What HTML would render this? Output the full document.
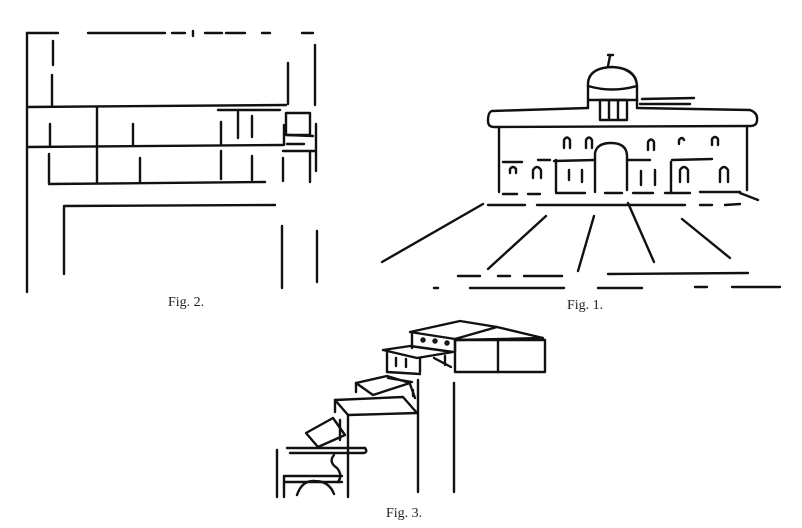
<!DOCTYPE html>
<html><head><meta charset="utf-8"><style>
html,body{margin:0;padding:0;background:#fff;}
svg{display:block;}
text{font-family:"Liberation Serif",serif;font-size:14px;fill:#222;}
</style></head><body>
<svg width="802" height="528" viewBox="0 0 802 528" xmlns="http://www.w3.org/2000/svg">
<g stroke="#111" stroke-width="2.4" fill="none" stroke-linecap="round" stroke-linejoin="round">
<!-- Fig 2 -->
<line x1="27" y1="33" x2="27" y2="292"/>
<line x1="27" y1="33" x2="58" y2="33"/>
<line x1="88" y1="33" x2="165" y2="33"/>
<line x1="172" y1="33" x2="185" y2="33"/>
<line x1="193" y1="31" x2="193" y2="36"/>
<line x1="205" y1="33" x2="222" y2="33"/>
<line x1="226" y1="33" x2="245" y2="33"/>
<line x1="262" y1="33" x2="270" y2="33"/>
<line x1="302" y1="33" x2="313" y2="33"/>
<line x1="53" y1="41" x2="53" y2="65"/>
<line x1="52" y1="75" x2="52" y2="105"/>
<line x1="288" y1="63" x2="288" y2="104"/>
<line x1="315" y1="45" x2="315" y2="105"/>
<line x1="27" y1="107" x2="286" y2="105"/>
<line x1="218" y1="110" x2="280" y2="110"/>
<line x1="97" y1="108" x2="97" y2="183"/>
<line x1="50" y1="124" x2="50" y2="145"/>
<line x1="133" y1="124" x2="133" y2="145"/>
<line x1="221" y1="122" x2="221" y2="145"/>
<line x1="238" y1="112" x2="238" y2="138"/>
<line x1="252" y1="116" x2="252" y2="137"/>
<line x1="27" y1="147" x2="283" y2="145"/>
<rect x="286" y="113" width="24" height="22"/>
<line x1="287" y1="135" x2="313" y2="136"/>
<line x1="287" y1="144" x2="304" y2="144"/>
<line x1="284" y1="125" x2="284" y2="145"/>
<line x1="316" y1="124" x2="316" y2="171"/>
<line x1="283" y1="151" x2="315" y2="151"/>
<line x1="49" y1="154" x2="49" y2="184"/>
<line x1="49" y1="184" x2="265" y2="182"/>
<line x1="140" y1="158" x2="140" y2="183"/>
<line x1="221" y1="151" x2="221" y2="179"/>
<line x1="252" y1="156" x2="252" y2="180"/>
<line x1="283" y1="158" x2="283" y2="181"/>
<line x1="310" y1="152" x2="310" y2="182"/>
<line x1="64" y1="206" x2="275" y2="205"/>
<line x1="64" y1="207" x2="64" y2="274"/>
<line x1="282" y1="226" x2="282" y2="288"/>
<line x1="317" y1="231" x2="317" y2="282"/>
<!-- Fig 1 -->
<path d="M492 111 L588 108 M637 108 L750 110 Q758 113 757 120 Q757 126 750 126 L494 127 Q488 127 488 121 Q488 112 492 111"/>
<line x1="499" y1="127" x2="499" y2="192"/>
<line x1="747" y1="127" x2="747" y2="190"/>
<path d="M588 108 L588 86 Q587 68 612 67 Q636 68 637 86 L637 108"/>
<path d="M588 86 Q612 93 637 86"/>
<path d="M626 70 Q634 74 636 80"/>
<line x1="608" y1="55" x2="613" y2="55"/>
<line x1="610" y1="56" x2="608" y2="66"/>
<rect x="600" y="100" width="27" height="20"/>
<line x1="609" y1="101" x2="609" y2="119"/>
<line x1="618" y1="101" x2="618" y2="119"/>
<line x1="588" y1="100" x2="637" y2="100"/>
<line x1="642" y1="99" x2="694" y2="98"/>
<line x1="640" y1="104" x2="690" y2="104"/>
<path d="M595 192 L595 153 Q597 143 611 143 Q626 143 627 155 L627 190"/>
<line x1="554" y1="161" x2="595" y2="160"/>
<line x1="627" y1="160" x2="650" y2="160"/>
<line x1="672" y1="160" x2="712" y2="159"/>
<line x1="503" y1="162" x2="522" y2="162"/>
<line x1="538" y1="160" x2="550" y2="160"/>
<line x1="556" y1="160" x2="556" y2="192"/>
<line x1="671" y1="162" x2="671" y2="192"/>
<path d="M564 148 V140 Q567 135 570 140 V148"/>
<path d="M586 148 V140 Q589 135 592 140 V148"/>
<path d="M648 150 V142 Q651 137 654 142 V150"/>
<path d="M679 144 V140 Q682 136 684 140"/>
<path d="M712 145 V139 Q715 135 718 139 V145"/>
<path d="M510 173 V169 Q513 165 516 169 V173"/>
<path d="M533 178 V170 Q537 164 541 170 V178"/>
<path d="M680 182 V170 Q684 164 688 170 V182"/>
<path d="M720 182 V170 Q724 164 728 170 V182"/>
<line x1="569" y1="170" x2="569" y2="180"/>
<line x1="582" y1="170" x2="582" y2="182"/>
<line x1="641" y1="171" x2="641" y2="185"/>
<line x1="655" y1="170" x2="655" y2="185"/>
<line x1="503" y1="194" x2="517" y2="194"/>
<line x1="528" y1="194" x2="540" y2="194"/>
<line x1="556" y1="193" x2="585" y2="193"/>
<line x1="605" y1="193" x2="622" y2="193"/>
<line x1="633" y1="193" x2="653" y2="193"/>
<line x1="665" y1="193" x2="690" y2="193"/>
<line x1="700" y1="192" x2="740" y2="192"/>
<line x1="740" y1="193" x2="758" y2="200"/>
<line x1="488" y1="205" x2="525" y2="205"/>
<line x1="537" y1="205" x2="685" y2="205"/>
<line x1="700" y1="205" x2="712" y2="205"/>
<line x1="725" y1="205" x2="740" y2="204"/>
<line x1="483" y1="204" x2="382" y2="262"/>
<line x1="546" y1="216" x2="488" y2="269"/>
<line x1="594" y1="216" x2="578" y2="271"/>
<line x1="628" y1="203" x2="654" y2="262"/>
<line x1="682" y1="219" x2="730" y2="258"/>
<line x1="458" y1="276" x2="480" y2="276"/>
<line x1="498" y1="276" x2="510" y2="276"/>
<line x1="524" y1="276" x2="562" y2="276"/>
<line x1="608" y1="274" x2="748" y2="273"/>
<line x1="434" y1="288" x2="438" y2="288"/>
<line x1="470" y1="288" x2="564" y2="288"/>
<line x1="598" y1="288" x2="642" y2="288"/>
<line x1="695" y1="287" x2="707" y2="287"/>
<line x1="732" y1="287" x2="780" y2="287"/>
<!-- Fig 3 -->
<polygon points="410,332 460,321 497,327 455,339"/>
<polyline points="497,327 543,338 455,340"/>
<rect x="455" y="340" width="90" height="32"/>
<line x1="498" y1="340" x2="498" y2="372"/>
<line x1="412" y1="333" x2="412" y2="348"/>
<line x1="455" y1="339" x2="455" y2="352"/>
<circle cx="423" cy="340" r="1.5"/><circle cx="435" cy="341" r="1.5"/><circle cx="447" cy="343" r="1.5"/>
<polygon points="383,350 410,346 453,352 417,358"/>
<line x1="387" y1="353" x2="387" y2="372"/>
<line x1="420" y1="358" x2="420" y2="372"/>
<line x1="387" y1="372" x2="420" y2="374"/>
<line x1="434" y1="358" x2="451" y2="367"/>
<line x1="445" y1="356" x2="445" y2="365"/>
<line x1="396" y1="358" x2="396" y2="366"/>
<line x1="406" y1="359" x2="406" y2="367"/>
<line x1="388" y1="378" x2="412" y2="382"/>
<polygon points="356,383 387,376 410,383 373,395"/>
<line x1="356" y1="383" x2="356" y2="392"/>
<line x1="410" y1="384" x2="415" y2="398"/>
<line x1="413" y1="390" x2="413" y2="396"/>
<polygon points="335,400 403,397 417,413 348,415"/>
<line x1="335" y1="400" x2="335" y2="412"/>
<line x1="418" y1="380" x2="418" y2="492"/>
<line x1="454" y1="383" x2="454" y2="492"/>
<line x1="348" y1="415" x2="348" y2="497"/>
<polygon points="306,433 333,418 345,435 318,447"/>
<line x1="340" y1="420" x2="340" y2="440"/>
<line x1="287" y1="448" x2="365" y2="448"/>
<path d="M365 448 Q368 452 364 453 L290 453"/>
<path d="M334 455 Q328 462 337 468 Q343 475 338 482"/>
<line x1="277" y1="450" x2="277" y2="497"/>
<line x1="285" y1="476" x2="342" y2="476"/>
<line x1="284" y1="482" x2="342" y2="482"/>
<line x1="284" y1="476" x2="284" y2="497"/>
<path d="M297 495 Q302 480 315 481 Q329 481 334 494"/>
</g>
<text x="168" y="306">Fig. 2.</text>
<text x="567" y="309">Fig. 1.</text>
<text x="386" y="517">Fig. 3.</text>
</svg>
</body></html>
